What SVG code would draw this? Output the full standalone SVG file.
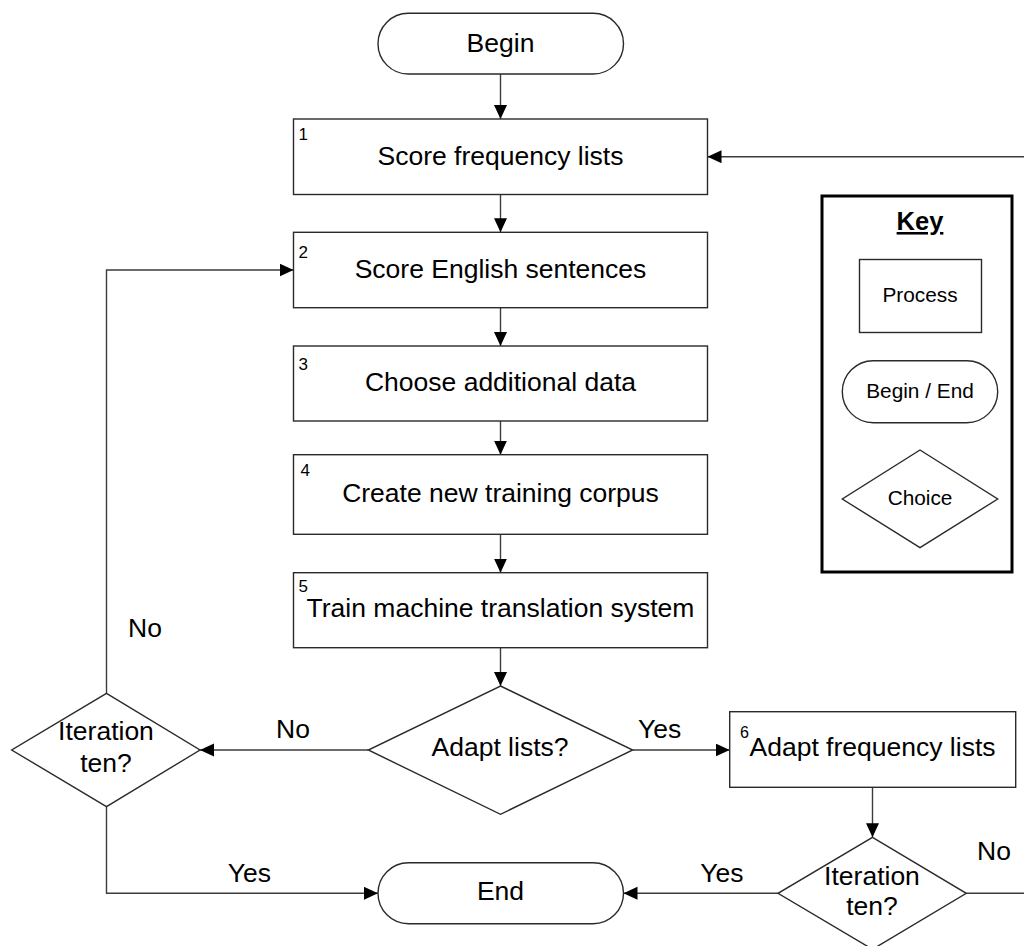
<svg xmlns="http://www.w3.org/2000/svg" width="1024" height="946" viewBox="0 0 1024 946">
  <defs>
    <style>
      .shape { fill: #ffffff; stroke: #2a2a2a; stroke-width: 1.4; }
      .wire { fill: none; stroke: #3c3c3c; stroke-width: 1.4; marker-end: url(#arrow); }
      .lbl { font-family: "Liberation Sans", Arial, sans-serif; font-size: 26.5px; fill: #000; }
      .mid { text-anchor: middle; }
      .num { font-family: "Liberation Sans", Arial, sans-serif; font-size: 17px; fill: #000; }
      .key { font-family: "Liberation Sans", Arial, sans-serif; font-size: 20.8px; fill: #000; text-anchor: middle; }
    </style>
    <marker id="arrow" markerUnits="userSpaceOnUse" markerWidth="15" markerHeight="14" refX="14" refY="6.5" orient="auto">
      <path d="M0,0 L14,6.5 L0,13 z" fill="#000"/>
    </marker>
  </defs>

  <rect width="1024" height="946" fill="#ffffff"/>

  <!-- connectors -->
  <g id="connectors">
    <path class="wire" d="M500.5,74 V119"/>
    <path class="wire" d="M500.5,194.5 V232.3"/>
    <path class="wire" d="M500.5,307.7 V346"/>
    <path class="wire" d="M500.5,421 V454.7"/>
    <path class="wire" d="M500.5,534.3 V572.7"/>
    <path class="wire" d="M500.5,647.7 V686"/>
    <path class="wire" d="M368.3,750 H200"/>
    <path class="wire" d="M632.7,750 H729.7"/>
    <path class="wire" d="M106.5,693.3 V270 H293.5"/>
    <path class="wire" d="M106.5,806.7 V893.3 H378"/>
    <path class="wire" d="M872.5,787.3 V837.3"/>
    <path class="wire" d="M778,893.3 H623.5"/>
    <path class="wire" d="M966.3,893.3 H1034 V156.7 H707.5"/>
    <text class="lbl" x="128" y="637.3">No</text>
    <text class="lbl" x="276" y="738.3">No</text>
    <text class="lbl" x="638" y="738.3">Yes</text>
    <text class="lbl" x="227.7" y="881.7">Yes</text>
    <text class="lbl" x="700.3" y="881.7">Yes</text>
    <text class="lbl" x="977" y="860">No</text>
  </g>

  <g id="begin">
    <rect class="shape" x="378" y="13.3" width="245.5" height="60.7" rx="30.3" ry="30.3"/>
    <text class="lbl mid" x="500.5" y="52">Begin</text>
  </g>

  <g id="step1">
    <rect class="shape" x="293.5" y="119" width="414" height="75.5"/>
    <text class="num" x="298.5" y="140">1</text>
    <text class="lbl mid" x="500.5" y="165">Score frequency lists</text>
  </g>

  <g id="step2">
    <rect class="shape" x="293.5" y="232.3" width="414" height="75.4"/>
    <text class="num" x="298.5" y="258">2</text>
    <text class="lbl mid" x="500.5" y="278">Score English sentences</text>
  </g>

  <g id="step3">
    <rect class="shape" x="293.5" y="346" width="414" height="75"/>
    <text class="num" x="298.5" y="369.5">3</text>
    <text class="lbl mid" x="500.5" y="390.7">Choose additional data</text>
  </g>

  <g id="step4">
    <rect class="shape" x="293.5" y="454.7" width="414" height="79.6"/>
    <text class="num" x="300.5" y="475.7">4</text>
    <text class="lbl mid" x="500.5" y="502.3">Create new training corpus</text>
  </g>

  <g id="step5">
    <rect class="shape" x="293.5" y="572.7" width="414" height="75"/>
    <text class="num" x="298.5" y="591.7">5</text>
    <text class="lbl mid" x="500.5" y="617.3">Train machine translation system</text>
  </g>

  <g id="adapt-choice">
    <polygon class="shape" points="500.5,686 632.7,750 500.5,814.3 368.3,750"/>
    <text class="lbl mid" x="500" y="756">Adapt lists?</text>
  </g>

  <g id="iteration-left">
    <polygon class="shape" points="106.5,693.3 200,750 106.5,806.7 11.7,750"/>
    <text class="lbl mid" x="106" y="740">Iteration</text>
    <text class="lbl mid" x="106" y="771.7">ten?</text>
  </g>

  <g id="step6">
    <rect class="shape" x="729.7" y="711.7" width="286" height="75.6"/>
    <text class="num" x="740" y="738.3" style="font-size:16px">6</text>
    <text class="lbl mid" x="872.5" y="756">Adapt frequency lists</text>
  </g>

  <g id="iteration-right">
    <polygon class="shape" points="872.5,837.3 966.3,893.3 872.5,949.3 778,893.3"/>
    <text class="lbl mid" x="872" y="885">Iteration</text>
    <text class="lbl mid" x="872" y="915">ten?</text>
  </g>

  <g id="end">
    <rect class="shape" x="378" y="862.7" width="245.5" height="61" rx="30.5" ry="30.5"/>
    <text class="lbl mid" x="500.5" y="900">End</text>
  </g>

  <g id="key">
    <rect x="822" y="196" width="190" height="376" fill="#ffffff" stroke="#000" stroke-width="3"/>
    <text x="920" y="230" font-family="'Liberation Sans', Arial, sans-serif" font-size="25.5" font-weight="bold" text-anchor="middle" text-decoration="underline">Key</text>
    <rect class="shape" x="859.5" y="259.5" width="122" height="73"/>
    <text class="key" x="920" y="301.5">Process</text>
    <rect class="shape" x="842.3" y="360.7" width="155.4" height="62" rx="31" ry="31"/>
    <text class="key" x="920" y="398.3">Begin / End</text>
    <polygon class="shape" points="920,450 997.7,499 920,547.7 842.3,499"/>
    <text class="key" x="920" y="505">Choice</text>
  </g>
</svg>
